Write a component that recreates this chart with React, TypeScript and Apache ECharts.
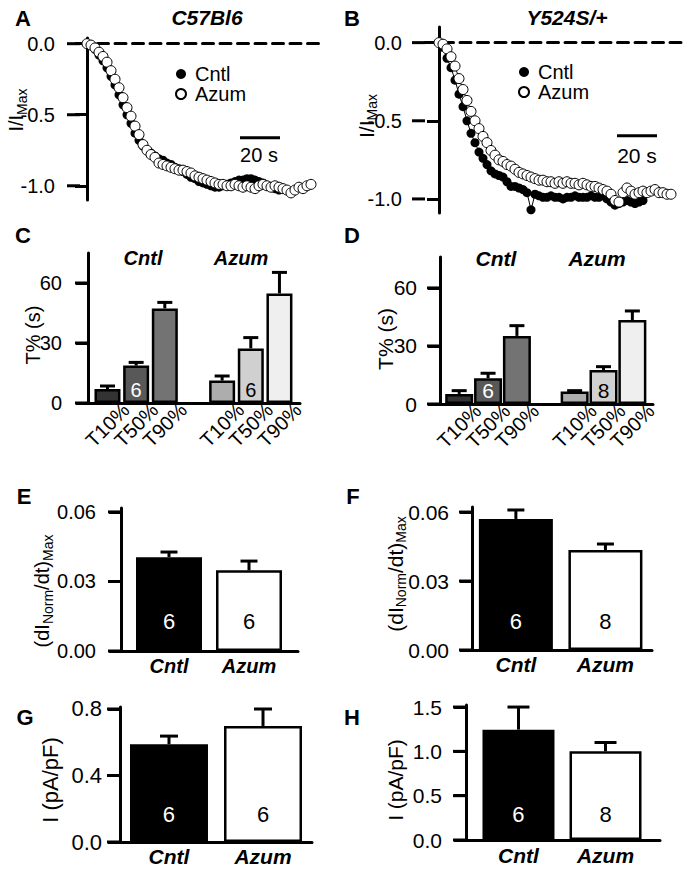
import React, { useEffect, useRef } from "react";
import * as echarts from "echarts";

const FONT = "Liberation Sans, Arial, Helvetica, sans-serif";
const BLACK = "#000000";

// ---------- Panels A & B: normalised current time courses (one point every 2 s) ----------
const SAMPLE_STEP_S = 2;
const aCntl = [0.0, -0.01, -0.04, -0.08, -0.12, -0.17, -0.23, -0.29, -0.36, -0.43, -0.5, -0.56, -0.63, -0.68, -0.72, -0.75, -0.77, -0.79, -0.81, -0.82, -0.84, -0.85, -0.87, -0.88, -0.9, -0.92, -0.94, -0.95, -0.97, -0.98, -0.99, -1.0, -1.01, -1.01, -1.0, -0.99, -0.98, -0.97, -0.96, -0.96, -0.95, -0.95, -0.96, -0.97, -0.98, -1.0, -1.01, -1.02, -1.03];
const aAzum = [0.0, -0.01, -0.03, -0.06, -0.09, -0.13, -0.19, -0.25, -0.31, -0.38, -0.45, -0.51, -0.58, -0.64, -0.71, -0.75, -0.78, -0.8, -0.84, -0.85, -0.86, -0.87, -0.88, -0.89, -0.89, -0.9, -0.91, -0.93, -0.94, -0.95, -0.96, -0.97, -0.98, -0.99, -0.99, -1.0, -1.0, -0.99, -1.0, -1.01, -1.0, -1.01, -1.02, -1.0, -0.99, -1.0, -1.01, -1.0, -1.01, -1.02, -1.03, -1.05, -1.03, -1.01, -1.02, -1.0, -0.99];
const bCntl = [0.0, -0.03, -0.1, -0.16, -0.24, -0.33, -0.41, -0.5, -0.58, -0.64, -0.7, -0.74, -0.78, -0.82, -0.84, -0.85, -0.86, -0.89, -0.92, -0.92, -0.93, -0.94, -0.96, -1.07, -0.97, -0.98, -0.99, -0.99, -0.98, -0.99, -0.99, -1.0, -0.99, -0.99, -0.98, -0.99, -0.99, -0.99, -0.98, -0.99, -0.99, -0.98, -1.0, -1.02, -1.04, -1.03, -1.02, -1.01, -1.02, -1.03, -1.02, -1.01];
const bAzum = [0.0, -0.01, -0.04, -0.09, -0.15, -0.23, -0.3, -0.37, -0.44, -0.5, -0.55, -0.6, -0.64, -0.69, -0.72, -0.75, -0.76, -0.78, -0.79, -0.81, -0.83, -0.84, -0.85, -0.86, -0.87, -0.88, -0.88, -0.89, -0.89, -0.9, -0.89, -0.9, -0.89, -0.9, -0.9, -0.91, -0.9, -0.91, -0.92, -0.92, -0.93, -0.94, -0.95, -0.97, -1.01, -1.02, -0.96, -0.93, -0.95, -0.97, -0.96, -0.95, -0.96, -0.95, -0.94, -0.96, -0.96, -0.97, -0.97];
const traceYTicks = [-1, -0.5, 0];
const traceNames = ["Cntl", "Azum"];
const SCALE_BAR_S = 20;

// ---------- Panels C & D: T10/T50/T90 (s) ----------
const tLabels = ["T10%", "T50%", "T90%"];
const groupNames = ["Cntl", "Azum"];
const cMeans = [7.0, 18.7, 47.3, 11.2, 27.3, 54.8];
const cSems = [1.5, 1.6, 3.0, 2.3, 5.4, 10.5];
const cN = [6, 6];
const dMeans = [5.2, 13.3, 35.2, 6.4, 17.6, 43.4];
const dSems = [1.7, 2.6, 5.3, 0.5, 1.7, 4.7];
const dN = [6, 8];
const tYTicks = [0, 30, 60];
const tBarColors = ["#333333", "#585858", "#737373", "#adadad", "#d0d0d0", "#efefef"];

// ---------- Panels E & F: (dI_Norm/dt)_Max ----------
const eMeans = [0.0405, 0.0348];
const eSems = [0.0022, 0.004];
const eN = [6, 6];
const fMeans = [0.057, 0.0435];
const fSems = [0.0039, 0.0026];
const fN = [6, 8];
const rateYTicks = [0, 0.03, 0.06];

// ---------- Panels G & H: I (pA/pF) ----------
const gMeans = [0.588, 0.698];
const gSems = [0.049, 0.102];
const gN = [6, 6];
const gYTicks = [0, 0.4, 0.8];
const hMeans = [1.245, 1.0];
const hSems = [0.255, 0.1];
const hN = [6, 8];
const hYTicks = [0, 0.5, 1.0, 1.5];

const pairColors = ["#000000", "#ffffff"];
const pairLabelColors = ["#ffffff", "#000000"];

// slot positions of the six T bars on the (value) x axis: group gap of one slot
const tPositions = [0, 1, 2, 4, 5, 6];

const TICK_LEN = 12;

// x extents of the eight panels (A..H)
const xRanges: [number, number][] = [
  [-3.5, 117.5],
  [-7, 122],
  [-0.68, 6.717],
  [-0.665, 6.715],
  [-0.6, 1.6125],
  [-0.49, 1.52],
  [-0.521, 1.521],
  [-0.603, 1.626],
];

const toPoints = (vals: number[]) => vals.map((v, i) => [i * SAMPLE_STEP_S, v]);

// y axis: the outward tick mark is drawn as the last token of each tick label
function yAxisCfg(gridIndex: number, min: number, max: number, ticks: number[], digits: number, fontSize: number, margin: number, onZero: boolean) {
  return {
    type: "value",
    gridIndex,
    min,
    max,
    axisLine: { show: true, onZero, lineStyle: { color: BLACK, width: 3 } },
    axisTick: { show: true, customValues: ticks, length: TICK_LEN, lineStyle: { color: BLACK, width: 3 } },
    axisLabel: {
      customValues: ticks,
      formatter: (v: number) => `{v|${Number(v).toFixed(digits)}}{g| }{t| }`,
      margin: 0,
      rich: {
        v: { fontSize, fontFamily: FONT, color: BLACK },
        g: { width: Math.max(1, margin - TICK_LEN), height: 2, fontSize: 2 },
        t: { width: TICK_LEN + 1, height: 3, fontSize: 2, backgroundColor: BLACK },
      },
    },
    splitLine: { show: false },
  };
}

function traceXAxis(gridIndex: number, min: number, max: number) {
  return {
    type: "value",
    gridIndex,
    min,
    max,
    axisLine: { show: true, onZero: true, lineStyle: { color: BLACK, width: 3, type: [11, 6.5] } },
    axisTick: { show: false },
    axisLabel: { show: false },
    splitLine: { show: false },
  };
}

function barXAxis(gridIndex: number, min: number, max: number, positions: number[], labelFor: (v: number) => string, labelOpts: any) {
  return {
    type: "value",
    gridIndex,
    min,
    max,
    axisLine: { show: true, onZero: false, lineStyle: { color: BLACK, width: 3 } },
    axisTick: { show: false },
    axisLabel: {
      customValues: positions,
      interval: 0,
      formatter: (v: number) => labelFor(v),
      fontFamily: FONT,
      color: BLACK,
      showMinLabel: true,
      showMaxLabel: true,
      hideOverlap: false,
      ...labelOpts,
    },
    splitLine: { show: false },
  };
}

function traceSeries(name: string, vals: number[], idx: number, filled: boolean) {
  return {
    name,
    type: "line",
    xAxisIndex: idx,
    yAxisIndex: idx,
    data: toPoints(vals),
    symbol: "circle",
    symbolSize: filled ? 9 : 10,
    showSymbol: true,
    lineStyle: { color: BLACK, width: 1 },
    itemStyle: filled ? { color: BLACK } : { color: "#ffffff", borderColor: BLACK, borderWidth: 1 },
    silent: true,
    z: filled ? 2 : 3,
  };
}

function scaleBarSeries(idx: number, t0: number, v: number) {
  return {
    type: "line",
    xAxisIndex: idx,
    yAxisIndex: idx,
    data: [
      [t0, v],
      [t0 + SCALE_BAR_S, v],
    ],
    symbol: "none",
    lineStyle: { color: BLACK, width: 3 },
    silent: true,
  };
}

function errSeries(idx: number, positions: number[], means: number[], sems: number[], cap: number) {
  return {
    type: "custom",
    xAxisIndex: idx,
    yAxisIndex: idx,
    encode: { x: 0, y: 1 },
    data: means.map((m, i) => [positions[i], m, sems[i]]),
    silent: true,
    z: 2,
    renderItem: (_params: any, api: any) => {
      const x = api.value(0);
      const m = api.value(1);
      const e = api.value(2);
      const p0 = api.coord([x, m]);
      const p1 = api.coord([x, m + e]);
      return {
        type: "group",
        children: [
          { type: "line", shape: { x1: p0[0], y1: p0[1], x2: p1[0], y2: p1[1] }, style: { stroke: BLACK, lineWidth: 3 } },
          { type: "line", shape: { x1: p1[0] - cap / 2, y1: p1[1], x2: p1[0] + cap / 2, y2: p1[1] }, style: { stroke: BLACK, lineWidth: 3 } },
        ],
      };
    },
  };
}

function tBarSeries(idx: number, means: number[], ns: number[], barWidth: number, fontSize: number) {
  return {
    type: "bar",
    xAxisIndex: idx,
    yAxisIndex: idx,
    barWidth,
    silent: true,
    z: 3,
    itemStyle: { borderColor: BLACK, borderWidth: 2.5 },
    label: { show: false, position: "insideBottom", distance: 3, fontSize, fontFamily: FONT },
    data: means.map((m, i) => ({
      value: [tPositions[i], m],
      itemStyle: { color: tBarColors[i] },
      label:
        i % 3 === 1
          ? { show: true, formatter: String(ns[Math.floor(i / 3)]), color: i < 3 ? "#ffffff" : BLACK }
          : { show: false },
    })),
  };
}

function pairBarSeries(idx: number, means: number[], ns: number[], barWidth: number, distance: number, fontSize: number) {
  return {
    type: "bar",
    xAxisIndex: idx,
    yAxisIndex: idx,
    barWidth,
    silent: true,
    z: 3,
    itemStyle: { borderColor: BLACK, borderWidth: 2.5 },
    label: { show: false, position: "insideBottom", distance, fontSize, fontFamily: FONT },
    data: means.map((m, i) => ({
      value: [i, m],
      itemStyle: { color: pairColors[i] },
      label: { show: true, formatter: String(ns[i]), color: pairLabelColors[i] },
    })),
  };
}

const tLabelFor = (v: number) => tLabels[v < 3 ? v : v - 4] ?? "";
const groupLabelFor = (v: number) => groupNames[v] ?? "";

function txt(x: number, y: number, text: string, fontSize: number, extra: any = {}) {
  return {
    type: "text",
    x,
    y,
    silent: true,
    z: 100,
    style: { text, fontSize, fontFamily: FONT, fill: BLACK, align: "center", verticalAlign: "middle", ...extra },
  };
}

function rotTxt(x: number, y: number, text: string, fontSize: number) {
  return { ...txt(x, y, text, fontSize), rotation: Math.PI / 2 };
}

function rotSubTxt(x: number, y: number, text: string, fontSize: number, subSize: number) {
  return {
    type: "text",
    x,
    y,
    rotation: Math.PI / 2,
    silent: true,
    z: 100,
    style: {
      text,
      fontFamily: FONT,
      fill: BLACK,
      align: "center",
      verticalAlign: "middle",
      rich: {
        m: { fontSize, fontFamily: FONT, fill: BLACK, verticalAlign: "top" },
        s: { fontSize: subSize, fontFamily: FONT, fill: BLACK, verticalAlign: "top", padding: [Math.round(fontSize * 0.45), 0, 0, 0] },
      },
    },
  };
}

const BOLD = { fontWeight: "bold" };
const BI = { fontWeight: "bold", fontStyle: "italic" };

function buildGraphicTexts() {
  return [
    txt(23, 18, "A", 22, BOLD),
    txt(352, 18, "B", 22, BOLD),
    txt(23, 235, "C", 22, BOLD),
    txt(352, 235, "D", 22, BOLD),
    txt(24, 496, "E", 22, BOLD),
    txt(353, 496, "F", 22, BOLD),
    txt(25, 717, "G", 22, BOLD),
    txt(352, 717, "H", 22, BOLD),
    txt(207, 17, "C57Bl6", 21, BI),
    txt(567, 17, "Y524S/+", 21, BI),
    txt(143, 258, groupNames[0], 20, BI),
    txt(241, 258, groupNames[1], 20, BI),
    txt(496, 258, groupNames[0], 21, BI),
    txt(597, 258, groupNames[1], 21, BI),
    txt(259, 155, `${SCALE_BAR_S} s`, 20),
    txt(637, 155, `${SCALE_BAR_S} s`, 21),
    rotSubTxt(17, 110, "{m|I/I}{s|Max}", 20, 14),
    rotSubTxt(367, 116, "{m|I/I}{s|Max}", 21, 14),
    rotTxt(33, 335, "T% (s)", 20),
    rotTxt(385, 339, "T% (s)", 21),
    rotSubTxt(43, 591, "{m|(dI}{s|Norm}{m|/dt)}{s|Max}", 20, 14),
    rotSubTxt(396, 574, "{m|(dI}{s|Norm}{m|/dt)}{s|Max}", 21, 14),
    rotTxt(50, 780, "I (pA/pF)", 22),
    rotTxt(395, 780, "I (pA/pF)", 21),
  ];
}

function buildOption() {
  const grids = [
    { left: 80, top: 38, width: 242, height: 162 }, // A
    { left: 425, top: 27, width: 258, height: 186 }, // B
    { left: 88, top: 253, width: 212, height: 150 }, // C
    { left: 440, top: 257, width: 213, height: 147 }, // D
    { left: 121, top: 508, width: 177, height: 143 }, // E
    { left: 472, top: 507, width: 180, height: 143 }, // F
    { left: 120, top: 707, width: 192, height: 135 }, // G
    { left: 466, top: 705, width: 194, height: 135 }, // H
  ];

  const xAxes = [
    traceXAxis(0, xRanges[0][0], xRanges[0][1]),
    traceXAxis(1, xRanges[1][0], xRanges[1][1]),
    barXAxis(2, xRanges[2][0], xRanges[2][1], tPositions, tLabelFor, { rotate: 45, align: "center", verticalAlign: "middle", margin: 22, fontSize: 20 }),
    barXAxis(3, xRanges[3][0], xRanges[3][1], tPositions, tLabelFor, { rotate: 45, align: "center", verticalAlign: "middle", margin: 22, fontSize: 20 }),
    barXAxis(4, xRanges[4][0], xRanges[4][1], [0, 1], groupLabelFor, { ...BI, fontSize: 20, margin: 5 }),
    barXAxis(5, xRanges[5][0], xRanges[5][1], [0, 1], groupLabelFor, { ...BI, fontSize: 21, margin: 4 }),
    barXAxis(6, xRanges[6][0], xRanges[6][1], [0, 1], groupLabelFor, { ...BI, fontSize: 21, margin: 4 }),
    barXAxis(7, xRanges[7][0], xRanges[7][1], [0, 1], groupLabelFor, { ...BI, fontSize: 21, margin: 5 }),
  ];

  const yAxes = [
    yAxisCfg(0, -1.1, 0.04, traceYTicks, 1, 20, 24, true),
    yAxisCfg(1, -1.09, 0.1, traceYTicks, 1, 20, 22, true),
    yAxisCfg(2, 0, 75, tYTicks, 0, 20, 25, false),
    yAxisCfg(3, 0, 76, tYTicks, 0, 21, 22, false),
    yAxisCfg(4, 0, 0.0617, rateYTicks, 2, 20, 24, false),
    yAxisCfg(5, 0, 0.0622, rateYTicks, 2, 21, 22, false),
    yAxisCfg(6, 0, 0.812, gYTicks, 1, 22, 17, false),
    yAxisCfg(7, 0, 1.523, hYTicks, 1, 21, 23, false),
  ];

  const series: any[] = [
    traceSeries(traceNames[0], aCntl, 0, true),
    traceSeries(traceNames[1], aAzum, 0, false),
    scaleBarSeries(0, 76.5, -0.662),
    traceSeries(traceNames[0], bCntl, 1, true),
    traceSeries(traceNames[1], bAzum, 1, false),
    scaleBarSeries(1, 89, -0.596),
    errSeries(2, tPositions, cMeans, cSems, 15),
    tBarSeries(2, cMeans, cN, 26, 20),
    errSeries(3, tPositions, dMeans, dSems, 15),
    tBarSeries(3, dMeans, dN, 28, 21),
    errSeries(4, [0, 1], eMeans, eSems, 17),
    pairBarSeries(4, eMeans, eN, 66, 19, 22),
    errSeries(5, [0, 1], fMeans, fSems, 17),
    pairBarSeries(5, fMeans, fN, 74, 18, 22),
    errSeries(6, [0, 1], gMeans, gSems, 18),
    pairBarSeries(6, gMeans, gN, 78, 17, 22),
    errSeries(7, [0, 1], hMeans, hSems, 22),
    pairBarSeries(7, hMeans, hN, 72, 15, 22),
  ];

  const legendBase = {
    data: traceNames,
    orient: "vertical",
    icon: "circle",
    itemWidth: 10,
    itemHeight: 10,
    itemGap: 0,
    selectedMode: false,
    textStyle: { fontSize: 20, fontFamily: FONT, color: BLACK, lineHeight: 20, padding: [0, 0, 0, 4] },
  };

  return {
    animation: false,
    grid: grids,
    xAxis: xAxes,
    yAxis: yAxes,
    legend: [
      { ...legendBase, left: 170, top: 59 },
      { ...legendBase, left: 513, top: 57 },
    ],
    series,
    graphic: buildGraphicTexts(),
  };
}

export default function App() {
  const ref = useRef<HTMLDivElement>(null);
  useEffect(() => {
    document.body.style.margin = "0";
    const chart = echarts.init(ref.current as HTMLDivElement, null, { renderer: "svg" });
    chart.setOption(buildOption() as any);
    return () => chart.dispose();
  }, []);
  return (
    <div
      ref={ref}
      style={{ width: 683, height: 870, position: "absolute", left: 0, top: 0, background: "#ffffff" }}
    />
  );
}
